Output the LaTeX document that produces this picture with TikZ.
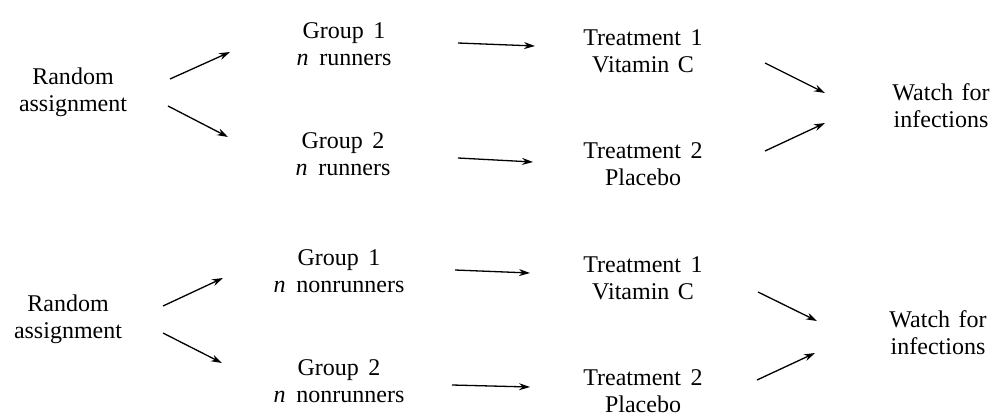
\documentclass[tikz,border=0pt]{standalone}
\usepackage{fontspec}
\setmainfont{Liberation Serif}
\usetikzlibrary{arrows.meta}
\begin{document}
\begin{tikzpicture}[x=1pt,y=-1pt,
  lbl/.style={align=center,inner sep=0pt,font=\fontsize{24}{27}\selectfont},
  arr/.style={line width=1.3pt,-{Stealth[length=11pt,width=7pt]}}]
\useasboundingbox (0,0) rectangle (992,418);
\newcommand{\nn}{\textit{n}\hspace{0.45em}}
% top block
\node[lbl] (ra1) at (73,92) {Random\\assignment};
\node[lbl] (g11) at (344,44) {Group\hspace{0.4em}1\\\nn runners};
\node[lbl] (g21) at (343,154) {Group\hspace{0.4em}2\\\nn runners};
\node[lbl] (t11) at (643,51) {Treatment\hspace{0.4em}1\\Vitamin\hspace{0.35em}C};
\node[lbl] (t21) at (643,164) {Treatment\hspace{0.4em}2\\Placebo};
\node[lbl] (w1) at (941,106) {Watch\hspace{0.35em}for\\infections};
% bottom block
\node[lbl] (ra2) at (68,319) {Random\\assignment};
\node[lbl] (g12) at (339,271) {Group\hspace{0.4em}1\\\nn nonrunners};
\node[lbl] (g22) at (339,381) {Group\hspace{0.4em}2\\\nn nonrunners};
\node[lbl] (t12) at (643,278) {Treatment\hspace{0.4em}1\\Vitamin\hspace{0.35em}C};
\node[lbl] (t22) at (643,391) {Treatment\hspace{0.4em}2\\Placebo};
\node[lbl] (w2) at (938,333) {Watch\hspace{0.35em}for\\infections};
% arrow end points
\coordinate (a1s) at (170,79);  \coordinate (a1e) at (230,52);
\coordinate (a2s) at (168,106); \coordinate (a2e) at (228,137);
\coordinate (a3s) at (458,43);  \coordinate (a3e) at (535,46);
\coordinate (a4s) at (458,158); \coordinate (a4e) at (533,162);
\coordinate (a5s) at (765,63);  \coordinate (a5e) at (825,93);
\coordinate (a6s) at (765,151); \coordinate (a6e) at (825,123);
\coordinate (b1s) at (163,306); \coordinate (b1e) at (223,278);
\coordinate (b2s) at (163,333); \coordinate (b2e) at (222,363);
\coordinate (b3s) at (455,270); \coordinate (b3e) at (530,273);
\coordinate (b4s) at (452,385); \coordinate (b4e) at (530,387);
\coordinate (b5s) at (758,292); \coordinate (b5e) at (817,321);
\coordinate (b6s) at (757,380); \coordinate (b6e) at (815,353);
\foreach \p in {a1,a2,a3,a4,a5,a6,b1,b2,b3,b4,b5,b6}
  \draw[arr] (\p s) -- (\p e);
\end{tikzpicture}
\end{document}
